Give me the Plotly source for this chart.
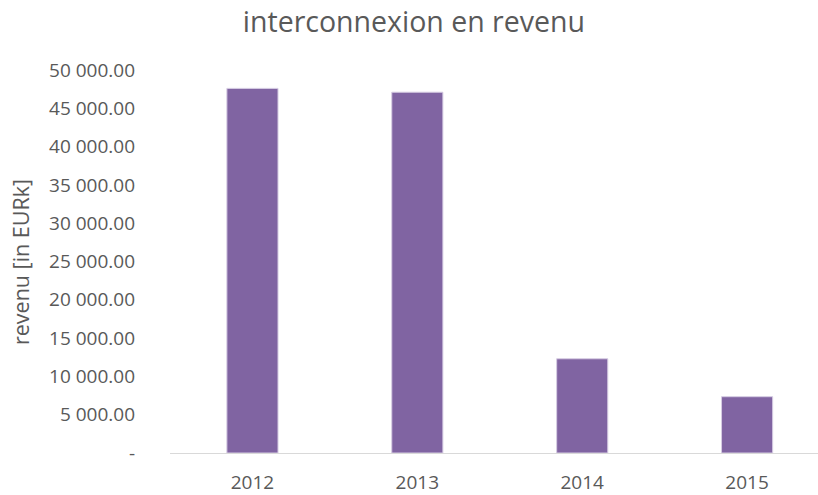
import plotly.graph_objects as go

years = ["2012", "2013", "2014", "2015"]
revenue = [47600, 47100, 12300, 7350]
tick_vals = [0, 5000, 10000, 15000, 20000, 25000, 30000, 35000, 40000, 45000, 50000]
tick_text = ["-", "5 000.00", "10 000.00", "15 000.00", "20 000.00", "25 000.00",
             "30 000.00", "35 000.00", "40 000.00", "45 000.00", "50 000.00"]
y_title = "revenu [in EURk]"

fig = go.Figure(go.Bar(x=years, y=revenue, marker_color="#8064A2",
                       marker_line_color="#D6CCE3", marker_line_width=1, width=0.31))

fig.update_layout(
    width=818, height=495,
    paper_bgcolor="white", plot_bgcolor="white",
    margin=dict(l=170, r=0, t=70, b=42),
    font=dict(family="Open Sans", color="#595959"),
    title=dict(text="interconnexion en revenu", x=0.506, xanchor="center",
               y=0.955, yanchor="middle", font=dict(size=28.5, color="#595959")),
    showlegend=False,
)
fig.add_annotation(text=y_title, xref="paper", yref="paper", x=-0.2299, y=0.4987,
                   xanchor="center", yanchor="middle", textangle=-90, showarrow=False,
                   font=dict(size=21.5, color="#595959"))
fig.update_xaxes(type="category", range=[-0.5, 3.43], showline=True, linecolor="#D9D9D9",
                 linewidth=1, showgrid=False, ticks="", tickfont=dict(size=19),
                 ticklabelstandoff=12, automargin=False)
fig.update_yaxes(range=[0, 50000], tickvals=tick_vals, ticktext=tick_text, showgrid=False,
                 zeroline=False, showline=False, ticks="", tickfont=dict(size=19),
                 ticklabelstandoff=34, automargin=False)

# remove the browser's default 8px body margin so the figure fills the window
fig.write_html("out.html", config={"displayModeBar": False},
               post_script="document.body.style.margin='0';")
